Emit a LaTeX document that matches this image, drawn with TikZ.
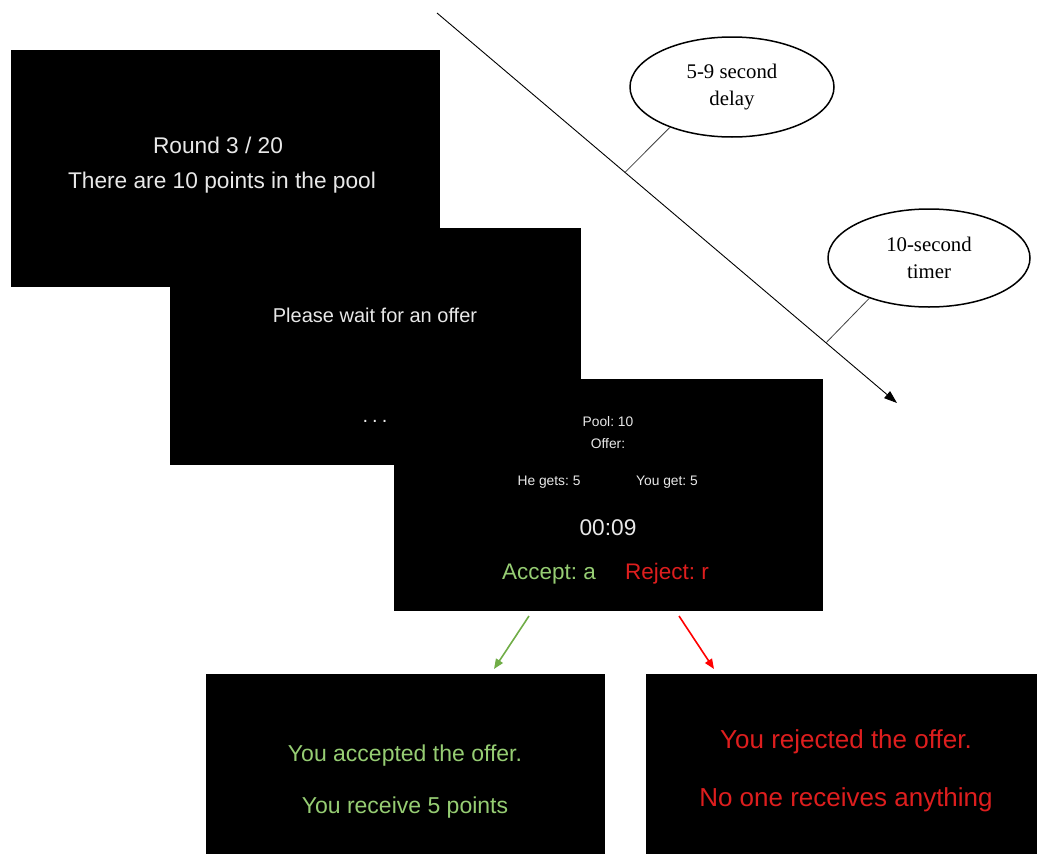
\documentclass[tikz,border=0pt]{standalone}
\usepackage{fontspec}
\setmainfont{Liberation Sans}
\newfontfamily\timesf{Liberation Serif}
\usetikzlibrary{arrows.meta,shapes.geometric,calc}
\frenchspacing
\definecolor{scrwhite}{RGB}{232,232,232}
\definecolor{accgreen}{RGB}{150,205,115}
\definecolor{rejred}{RGB}{222,30,30}
\definecolor{arrgreen}{RGB}{112,173,71}
\definecolor{arrred}{RGB}{255,0,0}
\tikzset{
  screen/.style={fill=black, draw=none, minimum width=#1, inner sep=0pt, anchor=north west},
  stxt/.style={text=scrwhite, inner sep=0pt, font=\fontsize{#1}{#1}\selectfont},
  bubble/.style={ellipse, draw=black, line width=1.5pt, fill=white, inner sep=0pt,
    minimum width=204pt, minimum height=100pt, align=center,
    font=\timesf\fontsize{20.8}{27}\selectfont},
  tick/.style={draw=black!75, line width=0.8pt},
  choice/.style={line width=1.6pt, -{Triangle[length=10pt,width=8pt]}}
}
\begin{document}
\begin{tikzpicture}[x=1pt,y=-1pt]
\useasboundingbox (0,0) rectangle (1037,854);
% timeline
\coordinate (tStart) at (437,13);
\coordinate (tEnd) at (897,403);
\draw[line width=0.9pt, -{Triangle[length=13pt,width=9pt]}] (tStart) -- (tEnd);
\coordinate (t1) at ($(tStart)!0.4087!(tEnd)$);
\coordinate (t2) at ($(tStart)!0.8457!(tEnd)$);
\node[bubble] (e1) at (732,87) {5-9 second\\delay};
\node[bubble, minimum width=202pt, minimum height=98pt] (e2) at (929,258) {10-second\\timer};
\draw[tick] (e1.213) -- (t1);
\draw[tick] (e2.214) -- (t2);
% screens
\node[screen=429pt, minimum height=237pt] (s1) at (11,50) {};
\node[screen=411pt, minimum height=237pt] (s2) at (170,228) {};
\node[screen=429pt, minimum height=232pt] (s3) at (394,379) {};
\node[screen=399pt, minimum height=180pt] (s4) at (206,674) {};
\node[screen=391pt, minimum height=180pt] (s5) at (646,674) {};
% screen 1
\node[stxt=22.7] (r1) at (218,145) {Round 3 / 20};
\node[stxt=22.7] (r2) at (222,183) {There are 10 points in the pool};
% screen 2
\node[stxt=20] (w1) at (375,315) {Please wait for an offer};
\node[stxt=20] (w2) at (375,421) {.\hspace{4pt}.\hspace{4pt}.};
% screen 3
\node[stxt=13.8] (p1) at (608,422) {Pool: 10};
\node[stxt=13.8] (p2) at (608,444) {Offer:};
\node[stxt=13.8] (p3) at (549,482) {He gets: 5};
\node[stxt=13.8] (p4) at (667,482) {You get: 5};
\node[stxt=22.7] (p5) at (608,528) {00:09};
\node[stxt=22.5, text=accgreen] (acc) at (549,574) {Accept: a};
\node[stxt=22.5, text=rejred] (rej) at (667,574) {Reject: r};
% screen 4
\node[stxt=23, text=accgreen] (g1) at (405,756) {You accepted the offer.};
\node[stxt=23, text=accgreen] (g2) at (405,808) {You receive 5 points};
% screen 5
\node[stxt=26, text=rejred] (n1) at (846,742) {You rejected the offer.};
\node[stxt=26, text=rejred] (n2) at (846,800) {No one receives anything};
% choice arrows
\coordinate (ga) at (529,616);
\coordinate (gb) at (494,669);
\coordinate (ra) at (679,616);
\coordinate (rb) at (714,669);
\draw[choice, draw=arrgreen, fill=arrgreen] (ga) -- (gb);
\draw[choice, draw=arrred, fill=arrred] (ra) -- (rb);
\end{tikzpicture}
\end{document}
